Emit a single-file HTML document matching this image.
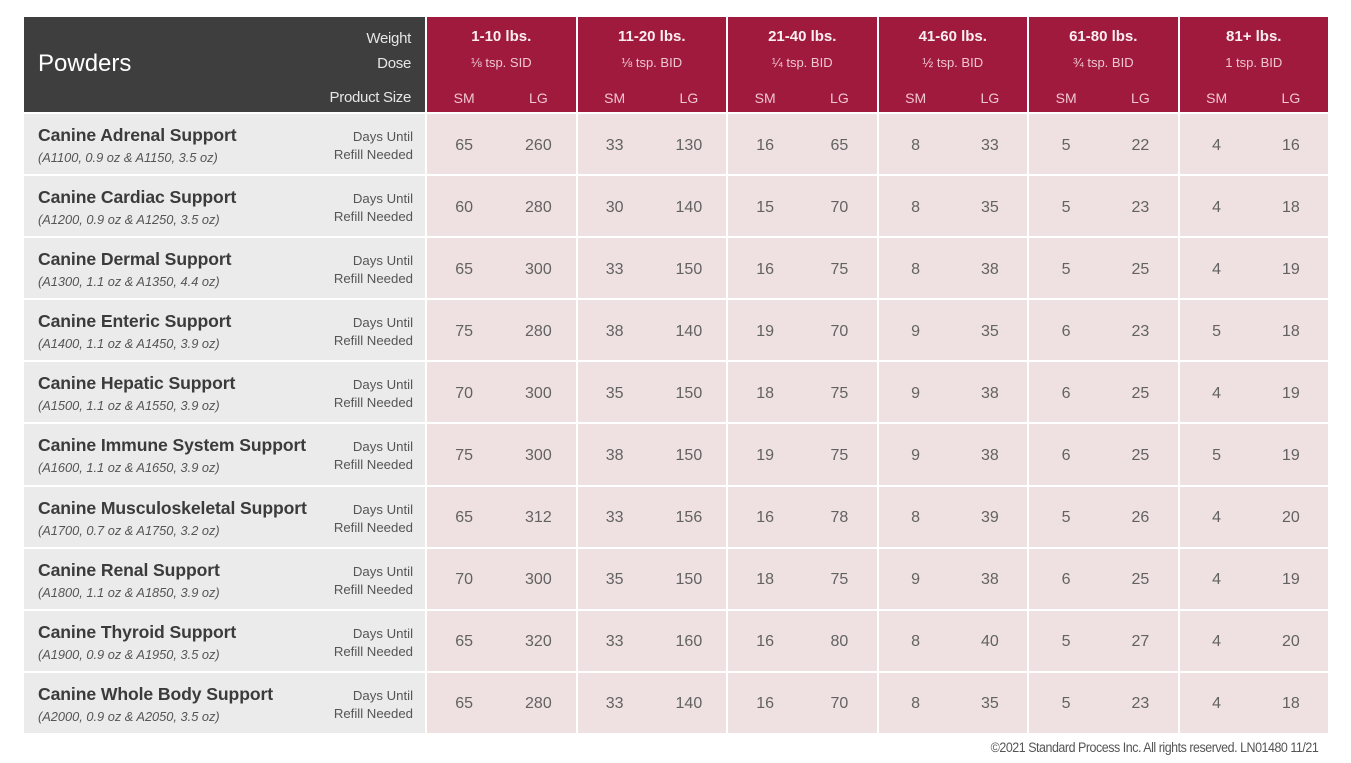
<!DOCTYPE html>
<html><head><meta charset="utf-8">
<style>
*{margin:0;padding:0;box-sizing:border-box}
html,body{width:1351px;height:763px;background:#fff;overflow:hidden;font-family:"Liberation Sans",sans-serif}
.grid{position:absolute;left:24px;top:17px;width:1304px;display:grid;
grid-template-columns:401px repeat(6,148.5px);column-gap:2px;row-gap:2px;
grid-template-rows:95px repeat(10,60.1px)}
.hd{background:#3e3e3e;position:relative;color:#fff}
.hd .t{position:absolute;left:14px;top:33px;font-size:24px;color:#fff}
.hd .r{position:absolute;right:14px;text-align:right;font-size:15px;color:#e6e6e6;letter-spacing:-0.3px}
.grp{background:#a01a3d;position:relative;color:#fff;text-align:center}
.grp .w{position:absolute;left:0;right:0;top:11px;font-size:15px;font-weight:bold;color:#fbeef1}
.grp .d{position:absolute;left:0;right:0;top:38px;font-size:13px;color:#f0c6d1}
.grp .s{position:absolute;top:73px;font-size:14px;color:#f0c6d1;width:50%;text-align:center}
.nm{background:#ebebeb;position:relative}
.nm .a{position:absolute;left:14px;top:11px;font-size:17.6px;font-weight:bold;color:#3b3b3b;letter-spacing:-0.1px}
.nm .b{position:absolute;left:14px;top:36px;font-size:12.8px;font-style:italic;color:#555}
.nm .c{position:absolute;right:12px;top:14px;text-align:right;font-size:13.2px;line-height:18px;color:#555}
.v{background:#efe1e1;display:flex;align-items:center;padding-top:3px;color:#626262;font-size:16px}
.v span{width:50%;text-align:center}
.foot{position:absolute;right:33px;top:740px;font-size:13.4px;color:#555;letter-spacing:-0.5px;transform:scaleX(0.93);transform-origin:right}
</style></head><body>
<div class="grid">
<div class="hd"><div class="t">Powders</div>
<div class="r" style="top:13px">Weight</div>
<div class="r" style="top:38px">Dose</div>
<div class="r" style="top:72px">Product Size</div></div>
<div class="grp"><div class="w">1-10 lbs.</div><div class="d">⅛ tsp. SID</div><div class="s" style="left:0">SM</div><div class="s" style="right:0">LG</div></div>
<div class="grp"><div class="w">11-20 lbs.</div><div class="d">⅛ tsp. BID</div><div class="s" style="left:0">SM</div><div class="s" style="right:0">LG</div></div>
<div class="grp"><div class="w">21-40 lbs.</div><div class="d">¼ tsp. BID</div><div class="s" style="left:0">SM</div><div class="s" style="right:0">LG</div></div>
<div class="grp"><div class="w">41-60 lbs.</div><div class="d">½ tsp. BID</div><div class="s" style="left:0">SM</div><div class="s" style="right:0">LG</div></div>
<div class="grp"><div class="w">61-80 lbs.</div><div class="d">¾ tsp. BID</div><div class="s" style="left:0">SM</div><div class="s" style="right:0">LG</div></div>
<div class="grp"><div class="w">81+ lbs.</div><div class="d">1 tsp. BID</div><div class="s" style="left:0">SM</div><div class="s" style="right:0">LG</div></div>

<div class="nm"><div class="a">Canine Adrenal Support</div><div class="b">(A1100, 0.9 oz &amp; A1150, 3.5 oz)</div><div class="c">Days Until<br>Refill Needed</div></div>
<div class="v"><span>65</span><span>260</span></div><div class="v"><span>33</span><span>130</span></div><div class="v"><span>16</span><span>65</span></div><div class="v"><span>8</span><span>33</span></div><div class="v"><span>5</span><span>22</span></div><div class="v"><span>4</span><span>16</span></div>

<div class="nm"><div class="a">Canine Cardiac Support</div><div class="b">(A1200, 0.9 oz &amp; A1250, 3.5 oz)</div><div class="c">Days Until<br>Refill Needed</div></div>
<div class="v"><span>60</span><span>280</span></div><div class="v"><span>30</span><span>140</span></div><div class="v"><span>15</span><span>70</span></div><div class="v"><span>8</span><span>35</span></div><div class="v"><span>5</span><span>23</span></div><div class="v"><span>4</span><span>18</span></div>

<div class="nm"><div class="a">Canine Dermal Support</div><div class="b">(A1300, 1.1 oz &amp; A1350, 4.4 oz)</div><div class="c">Days Until<br>Refill Needed</div></div>
<div class="v"><span>65</span><span>300</span></div><div class="v"><span>33</span><span>150</span></div><div class="v"><span>16</span><span>75</span></div><div class="v"><span>8</span><span>38</span></div><div class="v"><span>5</span><span>25</span></div><div class="v"><span>4</span><span>19</span></div>

<div class="nm"><div class="a">Canine Enteric Support</div><div class="b">(A1400, 1.1 oz &amp; A1450, 3.9 oz)</div><div class="c">Days Until<br>Refill Needed</div></div>
<div class="v"><span>75</span><span>280</span></div><div class="v"><span>38</span><span>140</span></div><div class="v"><span>19</span><span>70</span></div><div class="v"><span>9</span><span>35</span></div><div class="v"><span>6</span><span>23</span></div><div class="v"><span>5</span><span>18</span></div>

<div class="nm"><div class="a">Canine Hepatic Support</div><div class="b">(A1500, 1.1 oz &amp; A1550, 3.9 oz)</div><div class="c">Days Until<br>Refill Needed</div></div>
<div class="v"><span>70</span><span>300</span></div><div class="v"><span>35</span><span>150</span></div><div class="v"><span>18</span><span>75</span></div><div class="v"><span>9</span><span>38</span></div><div class="v"><span>6</span><span>25</span></div><div class="v"><span>4</span><span>19</span></div>

<div class="nm"><div class="a">Canine Immune System Support</div><div class="b">(A1600, 1.1 oz &amp; A1650, 3.9 oz)</div><div class="c">Days Until<br>Refill Needed</div></div>
<div class="v"><span>75</span><span>300</span></div><div class="v"><span>38</span><span>150</span></div><div class="v"><span>19</span><span>75</span></div><div class="v"><span>9</span><span>38</span></div><div class="v"><span>6</span><span>25</span></div><div class="v"><span>5</span><span>19</span></div>

<div class="nm"><div class="a">Canine Musculoskeletal Support</div><div class="b">(A1700, 0.7 oz &amp; A1750, 3.2 oz)</div><div class="c">Days Until<br>Refill Needed</div></div>
<div class="v"><span>65</span><span>312</span></div><div class="v"><span>33</span><span>156</span></div><div class="v"><span>16</span><span>78</span></div><div class="v"><span>8</span><span>39</span></div><div class="v"><span>5</span><span>26</span></div><div class="v"><span>4</span><span>20</span></div>

<div class="nm"><div class="a">Canine Renal Support</div><div class="b">(A1800, 1.1 oz &amp; A1850, 3.9 oz)</div><div class="c">Days Until<br>Refill Needed</div></div>
<div class="v"><span>70</span><span>300</span></div><div class="v"><span>35</span><span>150</span></div><div class="v"><span>18</span><span>75</span></div><div class="v"><span>9</span><span>38</span></div><div class="v"><span>6</span><span>25</span></div><div class="v"><span>4</span><span>19</span></div>

<div class="nm"><div class="a">Canine Thyroid Support</div><div class="b">(A1900, 0.9 oz &amp; A1950, 3.5 oz)</div><div class="c">Days Until<br>Refill Needed</div></div>
<div class="v"><span>65</span><span>320</span></div><div class="v"><span>33</span><span>160</span></div><div class="v"><span>16</span><span>80</span></div><div class="v"><span>8</span><span>40</span></div><div class="v"><span>5</span><span>27</span></div><div class="v"><span>4</span><span>20</span></div>

<div class="nm"><div class="a">Canine Whole Body Support</div><div class="b">(A2000, 0.9 oz &amp; A2050, 3.5 oz)</div><div class="c">Days Until<br>Refill Needed</div></div>
<div class="v"><span>65</span><span>280</span></div><div class="v"><span>33</span><span>140</span></div><div class="v"><span>16</span><span>70</span></div><div class="v"><span>8</span><span>35</span></div><div class="v"><span>5</span><span>23</span></div><div class="v"><span>4</span><span>18</span></div>
</div>
<div class="foot">©2021 Standard Process Inc. All rights reserved. LN01480 11/21</div>
</body></html>
